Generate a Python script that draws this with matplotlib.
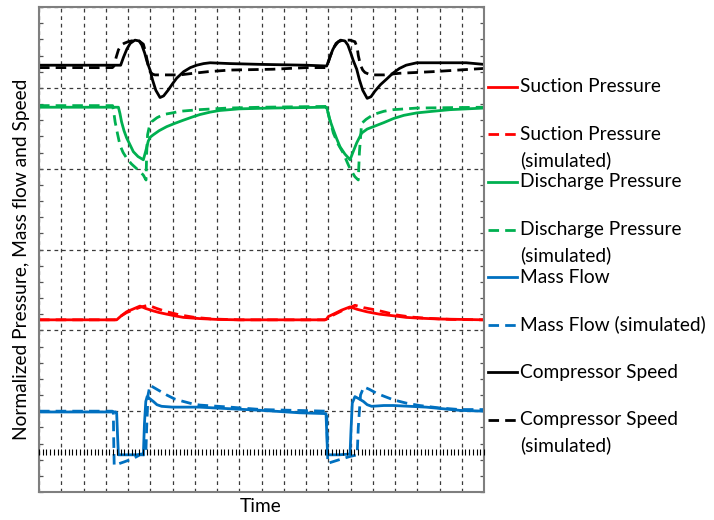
import matplotlib
matplotlib.use("Agg")
import matplotlib.pyplot as plt
from matplotlib.lines import Line2D
from matplotlib.ticker import MultipleLocator, NullFormatter

plt.rcParams['font.family'] = ['Lato', 'DejaVu Sans']

# ---------------- data (normalized units, time in grid divisions) ----------------
speed_t = [0, 3.67, 3.8, 3.95, 4.1, 4.31, 4.5, 4.62, 4.75, 4.85, 4.99, 5.1, 5.25, 5.44, 5.6, 5.8, 6.0,
           6.19, 6.5, 6.8, 7.09, 7.4, 7.69, 8.58, 10, 12.0, 12.93, 13.06, 13.2, 13.35, 13.55, 13.75,
           13.88, 14.0, 14.12, 14.28, 14.4, 14.55, 14.75, 14.92, 15.1, 15.35, 15.63, 15.9, 16.2,
           16.5, 16.98, 18.0, 19.2, 20]
speed_v = [5.28, 5.28, 5.38, 5.48, 5.55, 5.59, 5.58, 5.53, 5.43, 5.33, 5.22, 5.10, 4.97, 4.88, 4.90,
           4.97, 5.05, 5.12, 5.20, 5.25, 5.28, 5.30, 5.31, 5.30, 5.29, 5.28, 5.27, 5.37, 5.47, 5.55,
           5.59, 5.58, 5.53, 5.44, 5.34, 5.23, 5.10, 4.97, 4.87, 4.89, 4.96, 5.04, 5.11, 5.18, 5.24,
           5.28, 5.31, 5.31, 5.31, 5.29]

speed_sim_t = [0, 3.3, 3.37, 3.47, 3.57, 3.7, 3.82, 4.0, 4.31, 4.5, 4.69, 4.78, 4.84, 4.92, 4.99, 5.1,
               5.21, 6.34, 6.94, 7.6, 8.58, 10.5, 12.0, 12.9, 12.95, 13.1, 13.25, 13.45, 13.65, 13.98,
               14.2, 14.3, 14.35, 14.45, 14.55, 14.65, 14.9, 15.5, 16.2, 17.7, 20]
speed_sim_v = [5.25, 5.25, 5.27, 5.38, 5.47, 5.53, 5.55, 5.57, 5.59, 5.58, 5.54, 5.45, 5.37, 5.26,
               5.20, 5.17, 5.16, 5.16, 5.18, 5.20, 5.22, 5.23, 5.25, 5.25, 5.27, 5.40, 5.50, 5.57,
               5.59, 5.59, 5.57, 5.50, 5.40, 5.28, 5.22, 5.19, 5.16, 5.16, 5.18, 5.20, 5.24]

dis_t = [0, 3.57, 3.64, 3.71, 3.82, 3.94, 4.1, 4.24, 4.45, 4.69, 4.8, 4.91, 5.0, 5.14, 5.4, 5.74, 6.1,
         6.49, 6.9, 7.24, 7.7, 8.13, 9.0, 10.5, 12.9, 12.93, 13.05, 13.23, 13.38, 13.53, 13.75, 13.98,
         14.12, 14.28, 14.5, 14.75, 15.03, 15.5, 15.93, 16.4, 16.98, 17.7, 18.48, 20]
dis_v = [4.76, 4.76, 4.68, 4.58, 4.47, 4.38, 4.29, 4.21, 4.15, 4.11, 4.22, 4.34, 4.39, 4.42, 4.47,
         4.52, 4.56, 4.60, 4.64, 4.67, 4.70, 4.72, 4.74, 4.75, 4.76, 4.76, 4.62, 4.48, 4.37, 4.27,
         4.18, 4.11, 4.21, 4.32, 4.44, 4.49, 4.52, 4.57, 4.62, 4.66, 4.69, 4.71, 4.73, 4.75]

dis_sim_t = [0, 3.31, 3.37, 3.42, 3.53, 3.64, 3.78, 3.94, 4.15, 4.39, 4.55, 4.69, 4.81, 4.84, 4.88,
             4.95, 5.06, 5.3, 5.59, 6.0, 6.34, 7.2, 8.5, 10, 12.9, 12.93, 13.05, 13.23, 13.45, 13.68,
             13.85, 13.98, 14.2, 14.35, 14.4, 14.5, 14.7, 15.03, 15.5, 15.93, 17.0, 20]
dis_sim_v = [4.78, 4.78, 4.68, 4.58, 4.43, 4.29, 4.20, 4.13, 4.06, 4.00, 3.96, 3.92, 3.86, 4.20, 4.42,
             4.51, 4.58, 4.63, 4.67, 4.69, 4.71, 4.73, 4.75, 4.76, 4.77, 4.77, 4.63, 4.44, 4.30, 4.19,
             4.08, 4.00, 3.90, 3.86, 4.20, 4.56, 4.61, 4.67, 4.71, 4.73, 4.75, 4.76]

suc_t = [0, 3.49, 3.7, 3.94, 4.2, 4.54, 4.8, 5.14, 5.4, 5.74, 6.1, 6.49, 7.24, 8.0, 9.0, 12.85, 12.93,
         13.0, 13.23, 13.6, 13.98, 14.3, 14.73, 15.3, 15.93, 16.5, 17.12, 18.0, 20]
suc_v = [2.13, 2.13, 2.18, 2.23, 2.26, 2.30, 2.27, 2.24, 2.22, 2.20, 2.18, 2.16, 2.145, 2.135, 2.13,
         2.13, 2.14, 2.17, 2.20, 2.25, 2.29, 2.26, 2.23, 2.20, 2.18, 2.16, 2.15, 2.14, 2.13]

suc_sim_t = [0, 3.42, 3.7, 3.94, 4.3, 4.6, 4.91, 5.3, 5.74, 6.34, 7.0, 7.8, 9.0, 12.85, 12.93, 13.23,
             13.6, 13.98, 14.2, 14.6, 15.18, 16.07, 16.7, 17.4, 18.5, 20]
suc_sim_v = [2.13, 2.13, 2.18, 2.22, 2.26, 2.29, 2.31, 2.27, 2.23, 2.19, 2.16, 2.14, 2.13, 2.13, 2.14,
             2.19, 2.24, 2.28, 2.31, 2.28, 2.25, 2.19, 2.165, 2.15, 2.135, 2.13]

flow_t = [0, 3.45, 3.49, 3.53, 3.57, 4.0, 4.4, 4.61, 4.69, 4.74, 4.8, 4.86, 5.0, 5.14, 5.3, 5.51, 6.0,
          7.2, 8.58, 10, 11.7, 12.88, 12.9, 12.93, 12.97, 13.5, 13.98, 14.02, 14.08, 14.2, 14.4,
          14.58, 14.75, 14.95, 15.5, 15.93, 17.4, 18.9, 20]
flow_v = [0.99, 0.99, 0.98, 0.70, 0.46, 0.46, 0.46, 0.47, 0.46, 0.85, 1.12, 1.18, 1.15, 1.12, 1.08,
          1.06, 1.05, 1.05, 1.03, 1.01, 0.98, 0.97, 0.97, 0.75, 0.46, 0.46, 0.47, 0.75, 1.10, 1.18,
          1.15, 1.12, 1.08, 1.06, 1.07, 1.07, 1.05, 1.01, 1.00]

flow_sim_t = [0, 3.3, 3.34, 3.36, 3.38, 3.8, 4.2, 4.54, 4.8, 4.84, 4.9, 4.99, 5.3, 5.74, 6.1, 6.49,
              6.9, 7.24, 8.58, 10, 12.9, 12.93, 12.96, 12.98, 13.5, 13.98, 14.3, 14.35, 14.45, 14.6,
              14.85, 15.18, 15.55, 15.93, 16.5, 17.1, 18.0, 18.9, 20]
flow_sim_v = [1.00, 1.00, 0.99, 0.60, 0.33, 0.37, 0.41, 0.46, 0.46, 0.80, 1.20, 1.32, 1.27, 1.20,
              1.15, 1.12, 1.09, 1.075, 1.05, 1.02, 1.00, 1.00, 0.60, 0.355, 0.40, 0.44, 0.46, 0.80,
              1.20, 1.30, 1.27, 1.22, 1.18, 1.14, 1.10, 1.07, 1.04, 1.02, 1.02]

labels = ["Suction Pressure", "Suction Pressure\n(simulated)", "Discharge Pressure",
          "Discharge Pressure\n(simulated)", "Mass Flow", "Mass Flow (simulated)",
          "Compressor Speed", "Compressor Speed\n(simulated)"]

RED, GREEN, BLUE, BLACK = '#FF0000', '#00B050', '#0070C0', '#000000'
DASH = (0, (3.8, 2.2))

W, H = 714, 520
fig = plt.figure(figsize=(W / 100, H / 100), dpi=100)
L, R, T, B = 39, 484, 7, 492
ax = fig.add_axes([L / W, 1 - B / H, (R - L) / W, (B - T) / H])
ax.set_xlim(0, 20)
ax.set_ylim(0, 6)

# grid
ax.xaxis.set_major_locator(MultipleLocator(1))
ax.yaxis.set_major_locator(MultipleLocator(1))
ax.yaxis.set_minor_locator(MultipleLocator(0.2))
ax.grid(True, which='major', color='#3a3a3a', linestyle=(0, (3, 3)), linewidth=0.9)
ax.set_axisbelow(True)
ax.xaxis.set_major_formatter(NullFormatter())
ax.yaxis.set_major_formatter(NullFormatter())
ax.tick_params(axis='x', which='both', length=0)
ax.tick_params(axis='y', which='both', direction='in', left=True, right=True,
               length=3, width=0.9, color='#555555')
for s in ax.spines.values():
    s.set_color('#7f7f7f')
    s.set_linewidth(1.5)

# inner axis line with minor ticks at 0.5
ax2 = fig.add_axes(ax.get_position(), sharex=ax, frameon=False)
ax2.set_ylim(0, 6)
ax2.patch.set_visible(False)
ax2.spines['bottom'].set_visible(True)
ax2.spines['bottom'].set_position(('data', 0.5))
ax2.spines['bottom'].set_color('#000000')
ax2.spines['bottom'].set_linewidth(1.0)
ax2.xaxis.set_major_locator(MultipleLocator(1))
ax2.xaxis.set_minor_locator(MultipleLocator(1 / 6))
ax2.tick_params(axis='x', which='both', direction='inout', length=4, width=0.8,
                labelbottom=False, color='#000000')
ax2.set_yticks([])
ax2.grid(False)

lw = 2.0
ax.plot(suc_t, suc_v, color=RED, lw=lw)
ax.plot(suc_sim_t, suc_sim_v, color=RED, lw=lw, linestyle=DASH)
ax.plot(dis_t, dis_v, color=GREEN, lw=lw)
ax.plot(dis_sim_t, dis_sim_v, color=GREEN, lw=lw, linestyle=DASH)
ax.plot(flow_t, flow_v, color=BLUE, lw=lw)
ax.plot(flow_sim_t, flow_sim_v, color=BLUE, lw=lw, linestyle=DASH)
ax.plot(speed_t, speed_v, color=BLACK, lw=lw)
ax.plot(speed_sim_t, speed_sim_v, color=BLACK, lw=lw, linestyle=DASH)

fs = 13.75
fig.text(22 / W, 1 - 259 / H, "Normalized Pressure, Mass flow and Speed", rotation=90,
         ha='center', va='center', fontsize=fs)
fig.text(261 / W, 1 - 507 / H, "Time", ha='center', va='center', fontsize=fs)

# legend (manual, to match layout)
colors = [RED, RED, GREEN, GREEN, BLUE, BLUE, BLACK, BLACK]
styles = ['-', DASH] * 4
y0, step = 86.7, 47.6
for i, (lab, c, st) in enumerate(zip(labels, colors, styles)):
    y = y0 + step * i
    fig.add_artist(Line2D([488 / W, 517 / W], [1 - y / H, 1 - y / H], color=c, lw=lw,
                          linestyle=st, transform=fig.transFigure))
    for j, line in enumerate(lab.split("\n")):
        fig.text(520 / W, 1 - (y + 25.5 * j) / H, line, ha='left', va='center',
                 fontsize=fs)

fig.savefig("out.png", dpi=100)
